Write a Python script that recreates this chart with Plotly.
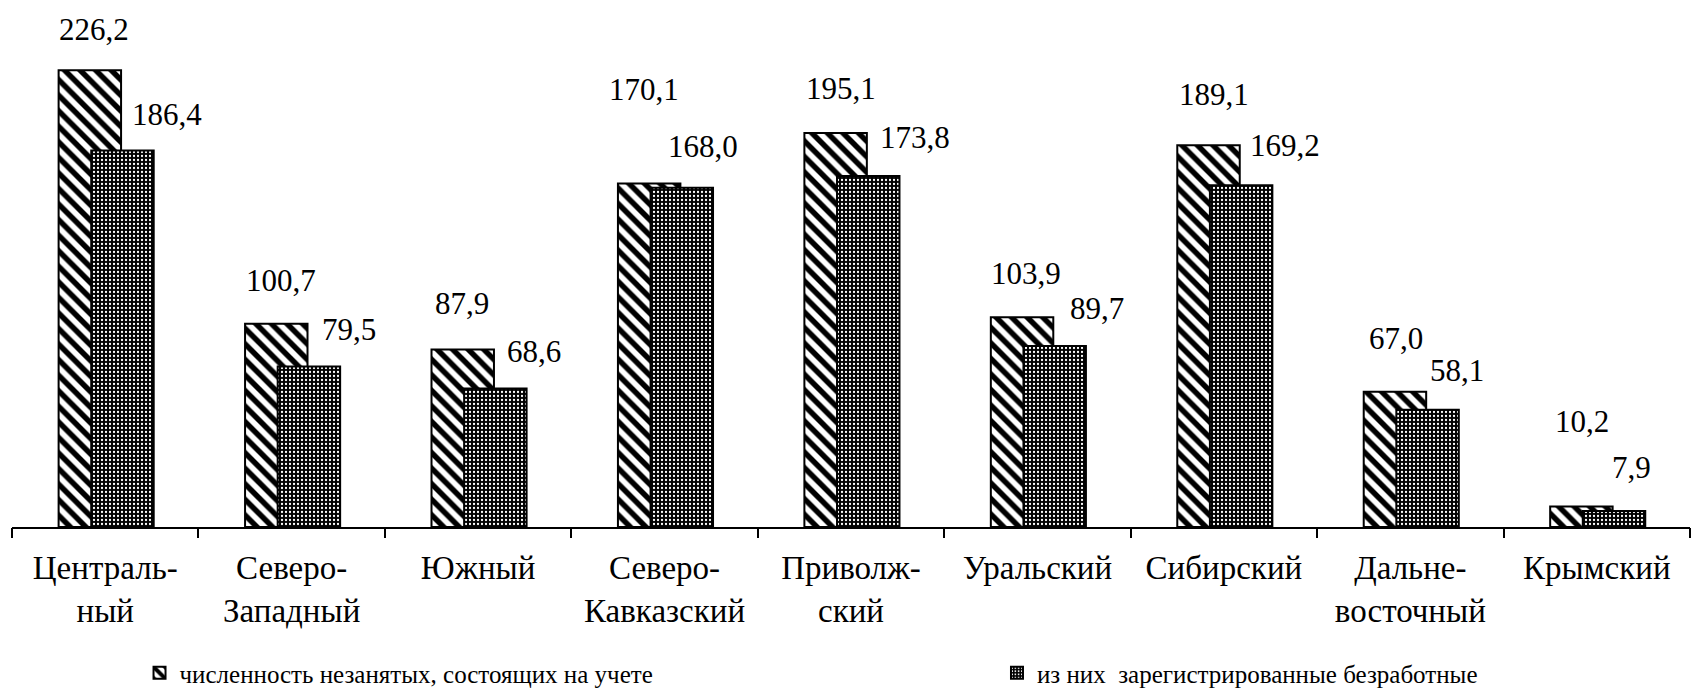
# plot.py — численность незанятых по федеральным округам (overlapped bars)

import plotly.graph_objects as go


# ─── Data ─────────────────────────────────────────────────────────────────────

REGIONS = [
    "Централь-<br>ный",
    "Северо-<br>Западный",
    "Южный",
    "Северо-<br>Кавказский",
    "Приволж-<br>ский",
    "Уральский",
    "Сибирский",
    "Дальне-<br>восточный",
    "Крымский",
]

UNEMPLOYED_TOTAL = [226.2, 100.7, 87.9, 170.1, 195.1, 103.9, 189.1, 67.0, 10.2]
REGISTERED       = [186.4, 79.5, 68.6, 168.0, 173.8, 89.7, 169.2, 58.1, 7.9]

NAME_TOTAL      = "численность незанятых, состоящих на учете"
NAME_REGISTERED = "из них  зарегистрированные безработные"


# ─── Styling ──────────────────────────────────────────────────────────────────

FONT       = "Liberation Serif"
BAR_WIDTH  = 0.335
OFFSET_A   = -0.25     # hatched bar, left edge relative to category centre
OFFSET_B   = -0.075    # dotted bar

# label nudges in px (Excel labels were dragged around by hand)
SHIFT_A = [(4, 41), (5, 43), (-1, 46), (-5, 94), (5, 45), (4, 44), (5, 51), (1, 53), (1, 85)]
SHIFT_B = [(45, 36), (40, 37), (39, 37), (21, 41), (47, 39), (42, 37), (44, 40), (29, 39), (17, 44)]


def fmt(v):
    return f"{v:.1f}".replace(".", ",")


idx = list(range(len(REGIONS)))
fig = go.Figure()

fig.add_trace(go.Bar(
    x=idx, y=UNEMPLOYED_TOTAL,
    name=NAME_TOTAL, width=BAR_WIDTH, offset=OFFSET_A,
    marker=dict(
        color="white",
        line=dict(color="black", width=2),
        pattern=dict(shape="\\", fgcolor="black", bgcolor="white",
                     fillmode="replace", size=11, solidity=0.5),
    ),
    legend="legend",
    showlegend=True,
))

fig.add_trace(go.Bar(
    x=idx, y=REGISTERED,
    name=NAME_REGISTERED, width=BAR_WIDTH, offset=OFFSET_B,
    marker=dict(
        color="black",
        line=dict(color="black", width=2),
        pattern=dict(shape=".", fgcolor="white", bgcolor="black",
                     fillmode="replace", size=4, solidity=0.25),
    ),
    legend="legend2",
    showlegend=True,
))

# ── Value labels ─────────────────────────────────────────────────────────────
for values, shifts, offset in [
    (UNEMPLOYED_TOTAL, SHIFT_A, OFFSET_A),
    (REGISTERED, SHIFT_B, OFFSET_B),
]:
    for i, (v, (dx, dy)) in enumerate(zip(values, shifts)):
        fig.add_annotation(
            x=i + offset + BAR_WIDTH / 2, y=v,
            xref="x", yref="y",
            text=fmt(v), showarrow=False,
            xanchor="center", yanchor="middle",
            xshift=dx, yshift=dy,
            font=dict(family=FONT, size=31, color="black"),
        )


# ─── Layout ───────────────────────────────────────────────────────────────────

x_range = [-0.5, len(REGIONS) - 0.5]

fig.update_layout(
    template="none",
    width=1691, height=698,
    paper_bgcolor="white",
    plot_bgcolor="white",
    barmode="overlay",
    showlegend=True,
    margin=dict(l=12, r=1, t=2, b=171, autoexpand=False),
    font=dict(family=FONT, color="black"),
    # labels under the category centres
    xaxis=dict(
        range=x_range,
        tickmode="array", tickvals=idx, ticktext=REGIONS,
        ticks="outside", ticklen=10, tickcolor="rgba(0,0,0,0)",
        showline=True, linecolor="black", linewidth=2,
        showgrid=False, zeroline=False,
        tickfont=dict(family=FONT, size=33, color="black"),
    ),
    # tick marks on the category boundaries
    xaxis2=dict(
        overlaying="x", anchor="y", side="bottom",
        range=x_range,
        tickmode="array", tickvals=[i - 0.5 for i in range(len(REGIONS) + 1)],
        ticks="outside", ticklen=10, tickwidth=2, tickcolor="black",
        showticklabels=False, showline=False,
        showgrid=False, zeroline=False,
    ),
    yaxis=dict(range=[0, 260], visible=False),
    legend=dict(
        x=0.076, y=-0.322, xanchor="left", yanchor="bottom",
        orientation="h", bgcolor="rgba(0,0,0,0)",
        font=dict(family=FONT, size=25, color="black"),
    ),
    legend2=dict(
        x=0.587, y=-0.322, xanchor="left", yanchor="bottom",
        orientation="h", bgcolor="rgba(0,0,0,0)",
        font=dict(family=FONT, size=25, color="black"),
    ),
)

# invisible helper trace so xaxis2 gets drawn
fig.add_trace(go.Scatter(x=[None], y=[None], xaxis="x2", showlegend=False,
                         hoverinfo="skip"))

fig.write_html("out.html", config={"displayModeBar": False},
               post_script="document.body.style.margin = '0';")
